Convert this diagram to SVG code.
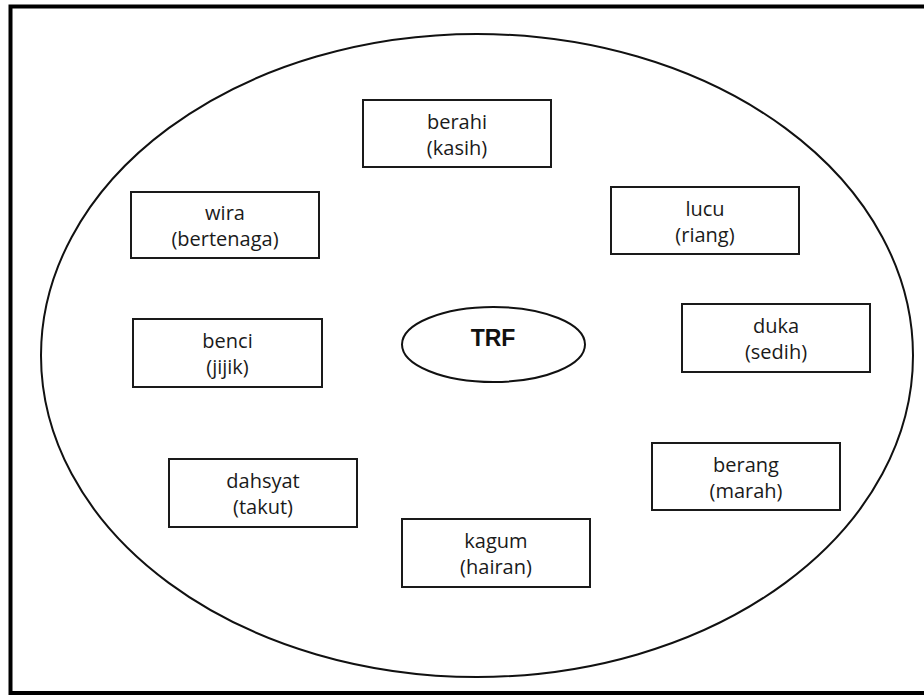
<svg xmlns="http://www.w3.org/2000/svg" width="924" height="695" viewBox="0 0 924 695">
<style>
.box rect{fill:#fff;stroke:#1a1a1a;stroke-width:2}
.box text{font-family:"Open Sans","Noto Sans",sans-serif;font-size:20px;fill:#1a1a1a;text-anchor:middle}
.trf{font-family:"Liberation Sans",Arial,sans-serif;font-size:23px;font-weight:bold;fill:#111;text-anchor:middle}
</style>
<rect x="0" y="0" width="924" height="695" fill="#fff"/>
<rect id="frame" x="10.5" y="6.5" width="925" height="686.5" fill="none" stroke="#000" stroke-width="4"/>
<g id="outer">
<ellipse cx="477" cy="355.5" rx="436" ry="321.5" fill="none" stroke="#111" stroke-width="2"/>
</g>
<g id="connectors"></g>
<g id="trf">
<ellipse cx="493.5" cy="344.5" rx="91.5" ry="37.5" fill="#fff" stroke="#111" stroke-width="2"/>
<text class="trf" x="493" y="346">TRF</text>
</g>
<g id="berahi" class="box"><rect x="363" y="100" width="188" height="67"/><text x="457" y="128.5">berahi</text><text x="457" y="154.5">(kasih)</text></g>
<g id="wira" class="box"><rect x="131" y="192" width="188" height="66"/><text x="225" y="220">wira</text><text x="225" y="246">(bertenaga)</text></g>
<g id="lucu" class="box"><rect x="611" y="187" width="188" height="67"/><text x="705" y="215.5">lucu</text><text x="705" y="241.5">(riang)</text></g>
<g id="benci" class="box"><rect x="133" y="319" width="189" height="68"/><text x="227.5" y="348">benci</text><text x="227.5" y="374">(jijik)</text></g>
<g id="duka" class="box"><rect x="682" y="304" width="188" height="68"/><text x="776" y="333">duka</text><text x="776" y="359">(sedih)</text></g>
<g id="dahsyat" class="box"><rect x="169" y="459" width="188" height="68"/><text x="263" y="488">dahsyat</text><text x="263" y="514">(takut)</text></g>
<g id="berang" class="box"><rect x="652" y="443" width="188" height="67"/><text x="746" y="471.5">berang</text><text x="746" y="497.5">(marah)</text></g>
<g id="kagum" class="box"><rect x="402" y="519" width="188" height="68"/><text x="496" y="548">kagum</text><text x="496" y="574">(hairan)</text></g>
</svg>
